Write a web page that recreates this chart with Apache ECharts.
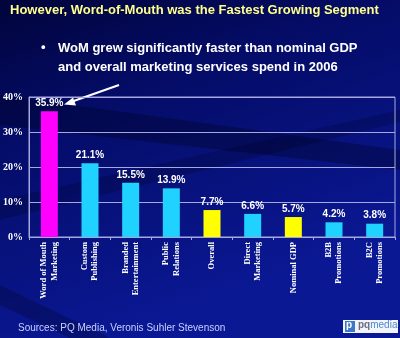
<!DOCTYPE html>
<html>
<head>
<meta charset="utf-8">
<script src="https://cdn.jsdelivr.net/npm/echarts@6/dist/echarts.min.js"></script>
<style>
  html, body { margin: 0; padding: 0; background: #06105e; }
  #chart { width: 400px; height: 338px; }
</style>
</head>
<body>
<div id="chart"></div>
<script>
// Growth of marketing segments, 2006
const categories = [
  'Word of Mouth\nMarketing', 'Custom\nPublishing', 'Branded\nEntertainment',
  'Public\nRelations', 'Overall', 'Direct\nMarketing', 'Nominal GDP',
  'B2B\nPromotions', 'B2C\nPromotions'
];
const growth = [35.9, 21.1, 15.5, 13.9, 7.7, 6.6, 5.7, 4.2, 3.8];
const barColors = ['#ff00ff', '#1fd2ff', '#1fd2ff', '#1fd2ff', '#ffff00',
                   '#1fd2ff', '#ffff00', '#1fd2ff', '#1fd2ff'];
const yTicks = [0, 10, 20, 30, 40];

const chart = echarts.init(document.getElementById('chart'), null, { renderer: 'canvas' });

const option = {
  backgroundColor: {
    type: 'linear', x: 0, y: 0, x2: 0.3, y2: 1,
    colorStops: [
      { offset: 0, color: '#01043a' },
      { offset: 0.35, color: '#040c66' },
      { offset: 1, color: '#0a1894' }
    ]
  },
  graphic: [
    // soft dark streaks across the backdrop
    { type: 'polygon', silent: true, z: -10,
      shape: { points: [[0, 95], [400, 150], [400, 170], [0, 125]] },
      style: { fill: 'rgba(0,0,20,0.3)' } },
    { type: 'polygon', silent: true, z: -10,
      shape: { points: [[0, 200], [400, 110], [400, 122], [0, 220]] },
      style: { fill: 'rgba(0,0,20,0.2)' } },
    { type: 'polygon', silent: true, z: -10,
      shape: { points: [[0, 285], [110, 338], [70, 338], [0, 305]] },
      style: { fill: 'rgba(0,0,20,0.25)' } },
    // heading
    { type: 'text', left: 10, top: 4,
      style: { text: 'However, Word-of-Mouth was the Fastest Growing Segment',
               fill: '#ffff8c', font: 'bold 13px "Liberation Sans", Arial, sans-serif' } },
    // bullet point
    { type: 'text', left: 41, top: 41,
      style: { text: '•', fill: '#ffffff', font: 'bold 13px "Liberation Sans", Arial, sans-serif' } },
    { type: 'text', left: 58, top: 39,
      style: { text: 'WoM grew significantly faster than nominal GDP\nand overall marketing services spend in 2006',
               fill: '#ffffff', lineHeight: 19,
               font: 'bold 13px "Liberation Sans", Arial, sans-serif' } },
    // pointer to the leading bar
    { type: 'line', silent: true,
      shape: { x1: 119, y1: 85, x2: 68, y2: 103 },
      style: { stroke: '#ffffff', lineWidth: 2 } },
    { type: 'polygon', silent: true,
      shape: { points: [[64, 104.5], [73, 97.5], [76, 105.5]] },
      style: { fill: '#ffffff' } },
    // source note
    { type: 'text', left: 18, top: 323,
      style: { text: 'Sources: PQ Media, Veronis Suhler Stevenson',
               fill: '#c8d0ff', font: '10px "Liberation Sans", Arial, sans-serif' } },
    // logo
    { type: 'rect', silent: true,
      shape: { x: 343, y: 320, width: 55, height: 13 },
      style: { fill: '#f2f4fa' } },
    { type: 'rect', silent: true,
      shape: { x: 345, y: 321, width: 10, height: 11 },
      style: { fill: '#3b78c8' } },
    { type: 'text', left: 346, top: 320,
      style: { text: 'p', fill: '#ffffff', font: 'bold 10px "Liberation Sans", Arial, sans-serif' } },
    { type: 'text', left: 358, top: 320,
      style: { rich: {
        a: { fill: '#6a6f80', font: 'bold 10px "Liberation Sans", Arial, sans-serif' },
        b: { fill: '#4a88d0', font: '10px "Liberation Sans", Arial, sans-serif' }
      }, text: '{a|pq}{b|media}' } }
  ],
  grid: { left: 26, right: 5, top: 97, bottom: 101, show: true,
          borderColor: '#a8a8e0', borderWidth: 1 },
  xAxis: {
    type: 'category',
    data: categories,
    axisLine: { lineStyle: { color: '#a8a8e0', width: 1 } },
    axisTick: { show: true, length: 3, lineStyle: { color: '#a8a8e0' } },
    axisLabel: {
      rotate: 90, interval: 0, margin: 5, color: '#ffffff',
      fontFamily: '"Liberation Serif", "Times New Roman", serif',
      fontWeight: 'bold', fontSize: 8.5, lineHeight: 10.5, align: 'right'
    }
  },
  yAxis: {
    type: 'value', min: 0, max: 40, interval: 10,
    axisLine: { show: true, lineStyle: { color: '#a8a8e0' } },
    axisTick: { show: false },
    splitLine: { lineStyle: { color: '#a8a8e0', width: 1 } },
    axisLabel: {
      margin: 6, color: '#ffffff',
      fontFamily: '"Liberation Serif", "Times New Roman", serif',
      fontWeight: 'bold', fontSize: 10,
      formatter: v => yTicks.includes(v) ? v + '%' : ''
    }
  },
  series: [{
    type: 'bar',
    data: growth.map((v, i) => ({ value: v, itemStyle: { color: barColors[i] } })),
    barWidth: 17,
    label: {
      show: true, position: 'top', distance: 3, color: '#ffffff',
      fontFamily: '"Liberation Sans", Arial, sans-serif',
      fontWeight: 'bold', fontSize: 10,
      formatter: p => p.value.toFixed(1) + '%'
    }
  }],
  animation: false
};

chart.setOption(option);
</script>
</body>
</html>
